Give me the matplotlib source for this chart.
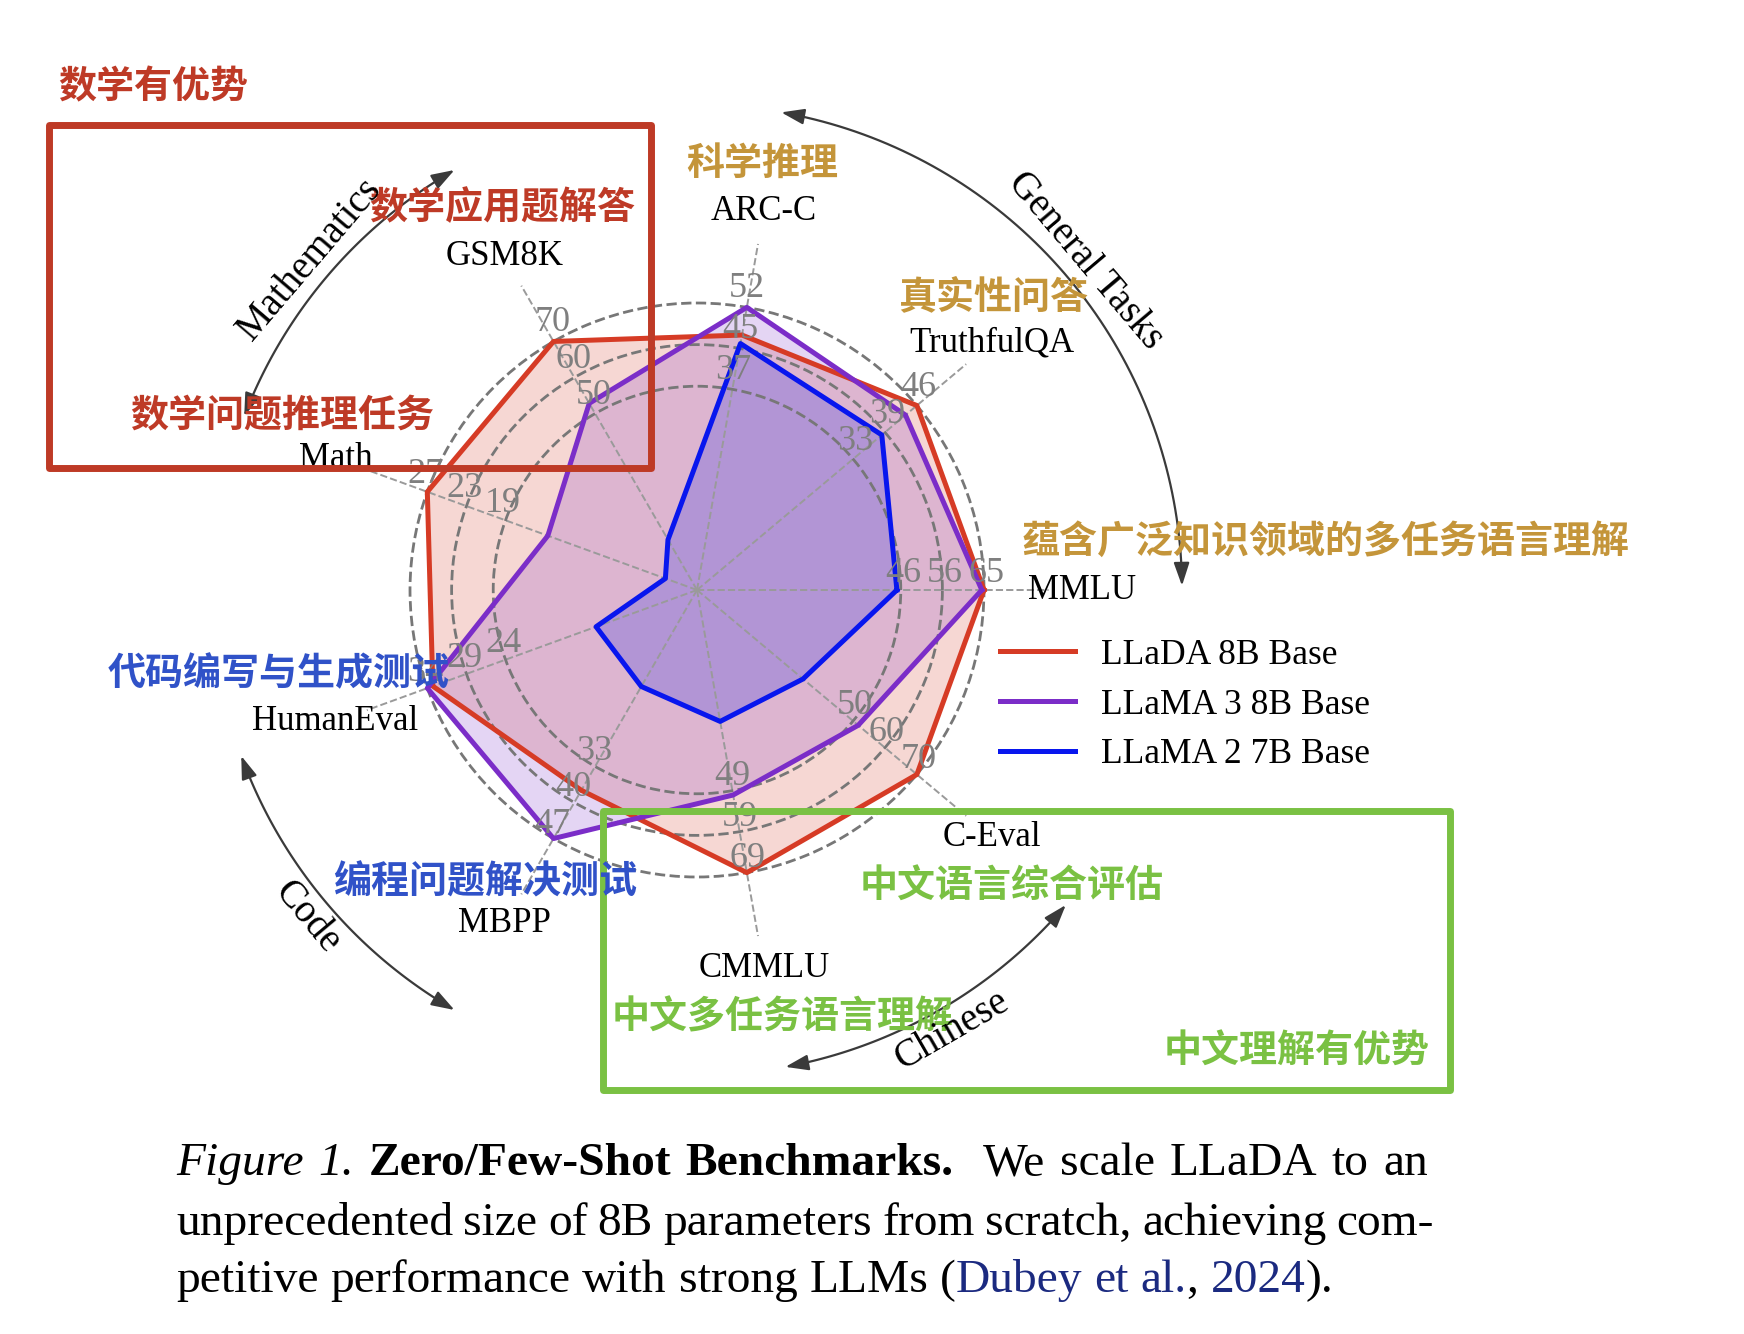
import numpy as np
import matplotlib
matplotlib.use('Agg')
import matplotlib.pyplot as plt
from matplotlib.patches import Rectangle, FancyArrowPatch
from matplotlib.path import Path

plt.rcParams['font.family'] = ['Liberation Serif', 'DejaVu Serif']
CJK = ['Noto Sans CJK SC', 'DejaVu Sans']

# benchmarks, counter-clockwise from the right
benchmarks = ['MMLU', 'TruthfulQA', 'ARC-C', 'GSM8K', 'Math',
              'HumanEval', 'MBPP', 'CMMLU', 'C-Eval']
angles_deg = [0, 40, 80, 120, 160, 200, 240, 280, 320]

llada = [65.9, 46.4, 47.9, 70.7, 27.3, 33.5, 38.2, 69.9, 70.5]
llama3 = [65.4, 44.0, 53.1, 53.1, 15.1, 34.2, 47.4, 50.7, 51.7]
llama2 = [45.9, 39.0, 46.3, 14.3, 3.2, 12.8, 18.4, 32.5, 34.0]
series_names = ['LLaDA 8B Base', 'LLaMA 3 8B Base', 'LLaMA 2 7B Base']

ring_labels = [['46', '56', '65'], ['33', '39', '46'], ['37', '45', '52'],
               ['50', '60', '70'], ['19', '23', '27'], ['24', '29', '34'],
               ['33', '40', '47'], ['49', '59', '69'], ['50', '60', '70']]

zh_names = ['蕴含广泛知识领域的多任务语言理解', '真实性问答', '科学推理',
            '数学应用题解答', '数学问题推理任务', '代码编写与生成测试',
            '编程问题解决测试', '中文多任务语言理解', '中文语言综合评估']

groups = ['General Tasks', 'Mathematics', 'Code', 'Chinese']
group_spans = [(0.5, 80), (120, 159), (200, 240), (280.5, 319.5)]

# layout (pixels)
FW, FH, DPI = 1744, 1334, 200
CX, CY, R = 697, 590, 287
RMAX = 1.225
RA = R * RMAX
rings = [0.71, 0.855, 1.0]

c_red, c_pur, c_blu = '#D63B25', '#7B2DC8', '#0816EE'
c_box_red = '#BE3A26'
c_gold = '#C4953A'
c_zh_blue = '#3052C8'
c_green = '#7AC143'

fig = plt.figure(figsize=(FW / DPI, FH / DPI), dpi=DPI)
fig.patch.set_facecolor('white')

ax = fig.add_axes([(CX - RA) / FW, (FH - CY - RA) / FH, 2 * RA / FW, 2 * RA / FH],
                  projection='polar')
ax.set_facecolor('none')
theta = np.deg2rad(angles_deg)
maxima = np.max([llada, llama3, llama2], axis=0)

lines = []
for vals, col, name in zip([llada, llama3, llama2], [c_red, c_pur, c_blu], series_names):
    r = np.array(vals) / maxima
    tt = np.append(theta, theta[0])
    rr = np.append(r, r[0])
    ax.fill(tt, rr, color=col, alpha=0.2, zorder=1, lw=0)
    ln, = ax.plot(tt, rr, color=col, lw=1.8, zorder=3, label=name)
    lines.append(ln)

ax.set_ylim(0, RMAX)
ax.set_xticks(theta)
ax.set_xticklabels([])
ax.set_yticks(rings)
ax.set_yticklabels([])
ax.set_axisbelow(False)
ax.xaxis.grid(True, color='#9a9a9a', ls='--', lw=0.7)
ax.yaxis.grid(True, color='#777777', ls='--', lw=1.0)
ax.spines['polar'].set_visible(False)
ax.tick_params(length=0)

for th, labs, name in zip(theta, ring_labels, benchmarks):
    for rg, lab in zip(rings, labs):
        ax.text(th, rg + 0.008, lab, ha='center', va='bottom', fontsize=13,
                color='#7f7f7f', zorder=4)
    ax.text(th, 1.34, name, ha='center', va='center', fontsize=12.5, color='black')

ax.legend(handles=lines, loc='center left', bbox_to_anchor=(1000 / FW, 1 - 705 / FH),
          bbox_transform=fig.transFigure, frameon=False, fontsize=12.8,
          handlelength=2.1, handletextpad=0.75, labelspacing=0.47,
          borderpad=0, borderaxespad=0)

# overlay in pixel coordinates
ov = fig.add_axes([0, 0, 1, 1])
ov.set_xlim(0, FW)
ov.set_ylim(FH, 0)
ov.axis('off')
ov.patch.set_alpha(0)

# Chinese annotations
zh_pos = [(1326, 541), (993, 297), (762, 163), (502, 208), (282, 416),
          (279, 674), (485, 882), (783, 1017), (1012, 886)]
zh_col = [c_gold, c_gold, c_gold, c_box_red, c_box_red,
          c_zh_blue, c_zh_blue, c_green, c_green]
for txt, (x, y), col in zip(zh_names, zh_pos, zh_col):
    ov.text(x, y, txt, ha='center', va='center', fontsize=13.7, color=col,
            family=CJK, fontweight='bold')

ov.text(153, 87, '数学有优势', ha='center', va='center', fontsize=13.7,
        color=c_box_red, family=CJK, fontweight='bold')
ov.text(1297, 1051, '中文理解有优势', ha='center', va='center', fontsize=13.7,
        color=c_green, family=CJK, fontweight='bold')

ov.add_patch(Rectangle((49, 125), 602, 343, fill=False, ec=c_box_red, lw=2.5,
                       joinstyle='round'))
ov.add_patch(Rectangle((603, 811), 847, 279, fill=False, ec=c_green, lw=2.5,
                       joinstyle='round'))

# group arcs
ARC_R = 485
for (a0, a1), name in zip(group_spans, groups):
    t = np.deg2rad(np.linspace(a0, a1, 80))
    pts = np.column_stack([CX + ARC_R * np.cos(t), CY - ARC_R * np.sin(t)])
    ov.add_patch(FancyArrowPatch(path=Path(pts),
                                 arrowstyle='<|-|>,head_length=0.5,head_width=0.17',
                                 mutation_scale=14, color='#3a3a3a', lw=0.8,
                                 transform=ov.transData))
    mid = (a0 + a1) / 2
    rot = mid - 90 if mid < 180 else mid + 90 - 360
    ov.text(CX + 509 * np.cos(np.deg2rad(mid)), CY - 509 * np.sin(np.deg2rad(mid)),
            name, ha='center', va='center', rotation=rot, rotation_mode='anchor',
            fontsize=14)

# caption
CAP_FS = 17.1
renderer = fig.canvas.get_renderer()
navy = '#1B2A80'


def put_line(words, y, x0, width=None):
    placed = []
    total = 0
    for w in words:
        segs = []
        ww = 0
        for txt, st in w:
            t = ov.text(0, y, txt, ha='left', va='baseline', fontsize=CAP_FS, **st)
            wd = t.get_window_extent(renderer).width
            segs.append((t, wd))
            ww += wd
        placed.append((segs, ww))
        total += ww
    if width is None:
        gap = 0.25 * CAP_FS * DPI / 72
    else:
        gap = (width - total) / (len(words) - 1)
    x = x0
    for segs, ww in placed:
        for t, wd in segs:
            t.set_x(x)
            x += wd
        x += gap


N = {}
I = {'style': 'italic'}
B = {'fontweight': 'bold'}
line1 = [[('Figure', I)], [('1.', I)], [('Zero/Few-Shot', B)], [('Benchmarks.', B)],
         [('', N)], [('We', N)], [('scale', N)], [('LLaDA', N)], [('to', N)], [('an', N)]]
line2 = [[(w, N)] for w in 'unprecedented size of 8B parameters from scratch, achieving com-'.split()]
line3 = [[(w, N)] for w in 'petitive performance with strong LLMs'.split()]
line3 += [[('(', N), ('Dubey', {'color': navy})], [('et', {'color': navy})],
          [('al.', {'color': navy}), (',', N)], [('2024', {'color': navy}), (').', N)]]
put_line(line1, 1175, 176, 1252)
put_line(line2, 1235, 176, 1258)
put_line(line3, 1292, 176)

fig.savefig('out.png', dpi=DPI, facecolor='white')
